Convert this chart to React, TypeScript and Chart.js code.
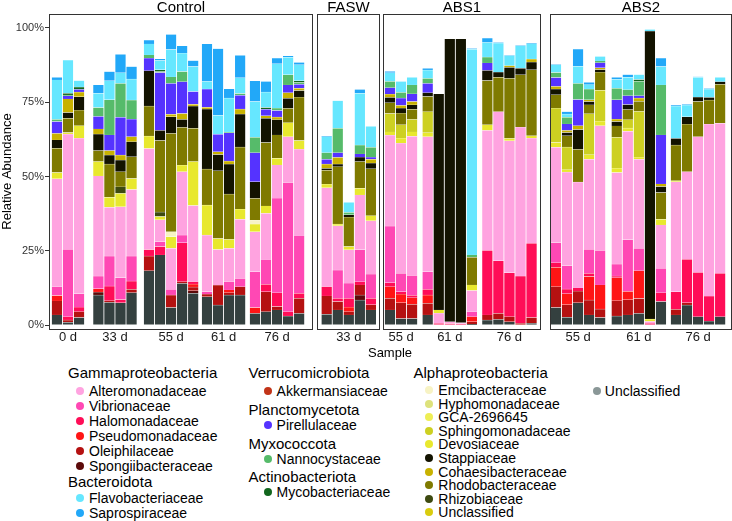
import React, { useEffect, useRef } from "react";
import { Chart, registerables } from "chart.js";

Chart.register(...registerables);

const FONT = '"Liberation Sans", Arial, Helvetica, sans-serif';

// ---------- categories ----------
const PANELS = ["Control", "FASW", "ABS1", "ABS2"];
const PANEL_DAYS = [["0 d", "33 d", "55 d", "61 d", "76 d"], ["33 d"], ["55 d", "61 d", "76 d"], ["55 d", "61 d", "76 d"]];
const REPLICATES = [[3, 4, 5, 4, 5], [5], [3, 5, 5], [5, 5, 5]];
const Y_TICKS = [0, 25, 50, 75, 100];

// ---------- series values (% relative abundance, one value per sample) ----------
const UNCLASSIFIED = [3.4,0.9,2.5, 10.1,7.6,7.5,10.9, 18.3,23.6,5.9,14.0,10.7, 9.5,6.7,10.1,10.1, 3.9,4.5,5.1,3.0,3.9, 3.6,5.1,3.4,8.4,5.1, 5.1,2.2,2.2, 3.4,0,0,0,0.3, 1.7,1.9,1.1,0,0.6, 5.9,2.6,7.5,3.4,2.5, 3.0,3.4,3.9,0,7.9, 3.4,6.7,2.8,1.3,2.8];
const SPONGIIBACTERACEAE = [0,0,0, 1.0,0,0,0, 0,0,0,0,0.8, 0,0,0,0, 0,0,0,0,0, 0,0,0,1.7,0, 0,0,0, 0,0,0,0,0, 0,0,0,0,0, 0,0,0,0,0, 0,0,0,0,0, 0,0,0,0,0];
const OLEIPHILACEAE = [4.7,0.8,2.0, 0,0.6,0,1.1, 4.9,0,4.2,0.6,1.3, 0.9,6.7,0.8,2.8, 0,6.7,1.1,0,5.1, 6.2,2.8,1.1,3.4,1.7, 3.9,5.3,4.8, 3.9,0,0,0,0.8, 1.7,2.0,1.7,0.6,1.9, 7.0,4.2,3.9,5.0,2.9, 5.2,5.1,5.0,0,0, 1.9,0.8,0,0,0];
const PSEUDOMONADACEAE = [1.8,0,0, 1.1,0,0,0, 0,0,0,0,1.0, 0,0,0.9,0, 2.0,0,0,0,0, 0,0,1.5,0,0, 3.9,2.9,2.2, 2.8,0,0,0,1.7, 0,0,0,0,0, 6.5,3.7,0,7.9,8.1, 7.7,2.8,9.4,0,0, 0,0,0,0,0];
const HALOMONADACEAE = [0,1.1,1.5, 0,4.9,1.1,2.8, 2.2,2.8,0,13.1,0.8, 0,0,0,0, 0,2.5,4.7,1.5,1.7, 3.1,1.1,3.0,1.1,2.2, 1.3,0.8,0.8, 1.9,0.6,0.5,0.4,0, 21.7,17.7,14.8,15.9,25.0, 1.6,1.6,1.1,1.1,0, 0.6,0,0,0.6,3.0, 5.9,14.6,14.9,8.4,14.6];
const VIBRIONACEAE = [3.0,22.7,4.5, 4.3,10.1,7.3,8.4, 0,1.7,1.9,2.6,0, 0.8,0,2.8,2.8, 12.0,8.2,31.8,43.4,19.3, 0,9.5,5.1,10.7,8.1, 19.1,6.2,6.7, 5.9,0,0,0,1.7, 0,0,0,0,0, 6.7,7.9,0,8.1,11.6, 4.0,17.4,7.5,0,8.2, 0,0,0,0,0];
const ALTEROMONADACEAE = [36.3,38.8,52.4, 33.7,16.4,23.9,22.4, 34.0,7.3,13.8,21.3,25.6, 19.1,12.0,11.2,19.9, 13.5,15.7,11.2,15.5,29.2, 33.3,14.9,11.2,18.5,18.0, 30.6,43.8,46.8, 45.5,3.4,0.6,0.4,7.1, 40.4,50.2,44.4,50.1,35.4, 32.1,31.5,35.6,30.3,42.0, 30.8,36.5,30.0,0.6,14.6, 37.0,29.5,45.7,57.9,50.5];
const DEVOSIACEAE = [2.1,0.5,4.2, 4.8,3.4,4.5,3.7, 4.2,1.1,3.9,2.2,14.8, 10.1,3.7,3.0,3.4, 2.6,2.5,2.2,4.7,2.9, 1.2,0.6,1.1,2.2,1.7, 1.1,1.7,1.5, 1.3,1.1,0,0,1.9, 1.9,0,0.8,0,0.8, 1.6,0.8,0,1.5,1.5, 1.5,1.1,0.7,0.8,1.9, 0.4,0,0,0,0];
const EMCIBACTERACEAE = [0,0,0, 0,0,0,0, 0,0,1.7,0,0, 0,0,0,0, 1.3,0,0,0,0, 0,0,0,0,0, 0,0,0, 0,0,0,0,0, 0,0,0,0,0, 0,0,0,0,0, 0,0,0,0,0, 0,0,0,0,0];
const GCA_2696645 = [0,0,0, 0,0,0,0, 0,0,0,0,0, 0,0,0,0, 0,0,0,0,0, 0,0,0,0,0, 0,0,0, 0,0,0,0,0, 0,0,0,0,0, 0,0,0,0,0, 0,0,0,0,0, 0,0,0,0,0];
const HYPHOMONADACEAE = [0,0,0, 0,0,0,0, 0,0,0,0,0, 0,0,0,0, 0,0,0,0,0, 0,0,0,0,0, 0,0,0, 0,0,0,0,0, 0,0,0,0,0, 0,0,0,0,0, 0,0,0,0,0, 0,0,0,0,0];
const SPHINGOMONADACEAE = [0,0,0, 0,0,0,0, 0,0,0,0,0, 0,0,0,0, 0,0,0,0,0, 0,0,0,0,0, 6.2,4.5,4.2, 7.1,0,0,0,0, 0,0,0,0,0, 11.6,7.6,0,13.8,10.4, 10.4,2.8,15.4,0,0, 0,0,0,0,0];
const UNCLASSIFIED_ALPHA = [0,0,0, 0,0,0,0, 0,0,0,0,0, 0,0,0,0, 0,0,0,0,0, 0,0,0,0,0, 0,0,0, 0,0,0,0,0, 0,0,0,0,0, 0,0,0,0,0, 0,0,0,0,0, 0,0,0,0,0];
const RHIZOBIACEAE = [0,0,0, 0,0,2.2,0, 0,1.5,0,0,0, 0,0,0,0, 0,0,0,0,0, 0,0,0,0,0, 0,0,0, 0,0,0,0,0, 0,0,0,0,0, 0,0,0,0,0, 0,0,0,0,0, 0,0,0,0,0];
const RHODOBACTERACEAE = [8.2,4.8,5.2, 3.7,11.2,5.1,7.3, 10.1,24.1,33.1,12.7,11.2, 12.1,22.8,15.3,20.9, 7.3,21.3,7.9,4.8,14.6, 4.7,19.3,9.9,9.0,15.8, 3.6,3.9,3.4, 5.1,0,0,0,9.3, 14.9,11.6,20.2,17.6,22.2, 4.5,3.8,11.0,3.0,6.1, 3.8,3.4,3.4,0,9.0, 12.0,16.0,11.8,8.1,13.1];
const STAPPIACEAE = [2.8,1.9,4.5, 5.6,3.0,3.9,5.1, 11.9,3.4,5.6,2.7,7.5, 20.2,5.5,10.1,11.1, 5.6,8.2,5.1,3.4,2.2, 0.6,0.9,0.8,1.5,1.9, 1.8,1.7,1.5, 1.3,72.7,95.2,95.5,0, 3.4,1.7,3.7,2.2,2.6, 1.9,1.1,6.7,1.1,0.9, 1.5,1.7,0,96.9,2.0, 2.2,2.5,1.5,0.9,0.9];
const COHAESIBACTERACEAE = [2.2,4.6,1.6, 1.7,1.5,1.7,1.7, 0,0,0.8,2.0,0.6, 0.6,0.9,1.0,1.7, 0,0.8,0.9,1.9,0.8, 1.5,2.2,0,0,1.3, 1.1,0.9,1.1, 0,0,0,0,0, 0,0,0.6,0,1.0, 0.9,0.7,1.3,0.6,0.6, 0.8,0,1.1,0,0.9, 0,0,0,0,0];
const AKKERMANSIACEAE = [0,0,0, 0,0,0,0, 0,0,0,0,0, 0,0,0,0, 0,0,0,0,0, 0,0,0,0,0, 0,0,0, 0,0,0,0,0, 0,0,0,0,0, 0,0,0,0,0, 0,0,0,0,0, 0,0,0,0,0];
const PIRELLULACEAE = [4.0,1.0,0.9, 4.2,5.3,12.7,5.9, 4.2,19.5,10.4,10.7,4.3, 6.1,5.9,9.5,4.6, 9.8,2.2,2.2,2.6,1.3, 1.6,1.6,0,1.1,0.7, 2.2,2.5,2.6, 3.1,0,0,0,0, 2.5,0,0,0,0, 3.0,2.2,8.8,0,1.7, 6.5,3.0,0.8,0,16.5, 0,0,0,0,0];
const NANNOCYSTACEAE = [0.7,0.3,0, 3.0,11.8,11.4,6.4, 1.1,0.3,2.2,3.4,0, 0,0,0.3,0.6, 5.2,0,0.8,3.4,0.6, 2.2,8.2,0.8,3.0,3.3, 2.1,1.9,3.0, 1.7,0,0,0,0.8, 2.0,0,0,0,0, 1.7,2.2,5.4,3.6,0.6, 3.9,2.0,4.8,0,16.8, 0,0,0,0,0];
const MYCOBACTERIACEAE = [0,0.6,0.8, 0,0,0,0, 0,0.6,0,0,0, 0,0,0,0, 0,0.6,0,0,0.6, 0,0,0,0,0, 0,0,0, 0,0,0,0,0, 0,0,0,0,0, 0,0,0,0,0, 0,0,0.6,0,0, 0,0,0,0,0];
const FLAVOBACTERIACEAE = [13.3,11.2,2.2, 4.8,6.4,3.6,7.1, 3.7,3.1,9.2,6.2,8.4, 2.6,6.4,11.4,5.3, 12.0,5.2,14.9,5.9,5.4, 5.4,9.3,3.4,17.4,7.1, 2.9,3.7,2.6, 2.8,0,0,0,69.2, 4.9,9.8,3.4,7.6,5.2, 2.6,1.1,5.8,1.5,1.5, 3.0,4.2,1.7,0.6,6.2, 10.9,3.9,6.7,2.8,1.5];
const SAPROSPIRACEAE = [0.9,0,0, 2.8,3.1,6.2,4.2, 1.3,0.6,5.1,2.5,2.0, 12.6,22.4,3.1,7.6, 7.0,3.6,1.9,0.5,0.8, 0.2,0,0,1.3,0, 0.5,0,0, 0.6,0,0,0,0.3, 1.5,0.2,0.2,0.2,0.2, 0.2,0.8,5.8,0.8,0, 0.7,0.9,0,0,2.8, 0.3,0.3,0.2,0.2,0];

// stacking order: bottom -> top
const FAMILIES = [
  { name: "Unclassified", values: UNCLASSIFIED, color: "#34403f", legendColor: "#8a9797" },
  { name: "Spongiibacteraceae", values: SPONGIIBACTERACEAE, color: "#5c0a0a" },
  { name: "Oleiphilaceae", values: OLEIPHILACEAE, color: "#b51111" },
  { name: "Pseudomonadaceae", values: PSEUDOMONADACEAE, color: "#ff1515" },
  { name: "Halomonadaceae", values: HALOMONADACEAE, color: "#ff0d57" },
  { name: "Vibrionaceae", values: VIBRIONACEAE, color: "#ff48b4" },
  { name: "Alteromonadaceae", values: ALTEROMONADACEAE, color: "#ffa3e0" },
  { name: "Devosiaceae", values: DEVOSIACEAE, color: "#e8e82e" },
  { name: "Emcibacteraceae", values: EMCIBACTERACEAE, color: "#f7f3c4" },
  { name: "GCA-2696645", values: GCA_2696645, color: "#eeee55" },
  { name: "Hyphomonadaceae", values: HYPHOMONADACEAE, color: "#dde27c" },
  { name: "Sphingomonadaceae", values: SPHINGOMONADACEAE, color: "#cdd022" },
  { name: "Unclassified Alphaproteobacteria", values: UNCLASSIFIED_ALPHA, color: "#d9cc0e" },
  { name: "Rhizobiaceae", values: RHIZOBIACEAE, color: "#3d4a10" },
  { name: "Rhodobacteraceae", values: RHODOBACTERACEAE, color: "#7f7a00" },
  { name: "Stappiaceae", values: STAPPIACEAE, color: "#131300" },
  { name: "Cohaesibacteraceae", values: COHAESIBACTERACEAE, color: "#c8b200" },
  { name: "Akkermansiaceae", values: AKKERMANSIACEAE, color: "#c23418" },
  { name: "Pirellulaceae", values: PIRELLULACEAE, color: "#5533ff" },
  { name: "Nannocystaceae", values: NANNOCYSTACEAE, color: "#56bb6a" },
  { name: "Mycobacteriaceae", values: MYCOBACTERIACEAE, color: "#12661e" },
  { name: "Flavobacteriaceae", values: FLAVOBACTERIACEAE, color: "#66e7ff" },
  { name: "Saprospiraceae", values: SAPROSPIRACEAE, color: "#22a8f8" },
];

const LEGEND_GROUPS = [
  { title: "Gammaproteobacteria", members: ["Alteromonadaceae", "Vibrionaceae", "Halomonadaceae", "Pseudomonadaceae", "Oleiphilaceae", "Spongiibacteraceae"] },
  { title: "Bacteroidota", members: ["Flavobacteriaceae", "Saprospiraceae"] },
  { title: "Verrucomicrobiota", members: ["Akkermansiaceae"] },
  { title: "Planctomycetota", members: ["Pirellulaceae"] },
  { title: "Myxococcota", members: ["Nannocystaceae"] },
  { title: "Actinobacteriota", members: ["Mycobacteriaceae"] },
  { title: "Alphaproteobacteria", members: ["Emcibacteraceae", "Hyphomonadaceae", "GCA-2696645", "Sphingomonadaceae", "Devosiaceae", "Stappiaceae", "Cohaesibacteraceae", "Rhodobacteraceae", "Rhizobiaceae", "Unclassified Alphaproteobacteria"] },
  { title: "", members: ["Unclassified"] },
];

// ---------- layout (slot units: one bar per slot) ----------
const PANEL_PAD = [[0.27, 0.71], [0.45, 0.26], [0.21, 0.31], [0.09, 0.53]];
const GROUP_GAPS = [[0.75, 0.58, 0.25, 0.34], [], [0.41, 0.4], [0.5, 0.36]];
const PANEL_SPACING = [0.43, 0.36, 0.91];
const BAR_HALF = 0.45;

const LEGEND_COLS = [
  { titleX: 68, dotX: 79.7, textX: 89 },
  { titleX: 248.5, dotX: 268.2, textX: 276.6 },
  { titleX: 413.5, dotX: 429, textX: 438.3 },
  { titleX: 590, dotX: 596.8, textX: 604.8 },
];
const LEGEND_PLACE = [
  { col: 0, titleY: 373.3, firstY: 390.7, step: 15 },
  { col: 0, titleY: 482.3, firstY: 497.7, step: 15.5 },
  { col: 1, titleY: 373.3, firstY: 390.7, step: 15 },
  { col: 1, titleY: 410, firstY: 424.5, step: 15 },
  { col: 1, titleY: 444.3, firstY: 459.3, step: 15 },
  { col: 1, titleY: 476.7, firstY: 492.3, step: 15 },
  { col: 2, titleY: 373.3, firstY: 390, step: 13.6 },
  { col: 3, titleY: 0, firstY: 390.7, step: 15 },
];

function buildLayout() {
  const xs: number[] = [];
  const panels: { name: string; left: number; right: number }[] = [];
  const tickVals: number[] = [];
  const tickLabels: string[] = [];
  let cursor = 0;
  PANELS.forEach((name, pi) => {
    const left = cursor;
    let x = left + PANEL_PAD[pi][0] + BAR_HALF;
    REPLICATES[pi].forEach((n, gi) => {
      if (gi > 0) x += 1 + GROUP_GAPS[pi][gi - 1];
      const first = x;
      for (let k = 0; k < n; k++) {
        if (k > 0) x += 1;
        xs.push(x);
      }
      tickVals.push((first + x) / 2);
      tickLabels.push(PANEL_DAYS[pi][gi]);
    });
    const right = x + BAR_HALF + PANEL_PAD[pi][1];
    panels.push({ name, left, right });
    cursor = right + (pi < PANEL_SPACING.length ? PANEL_SPACING[pi] : 0);
  });
  return { xs, panels, tickVals, tickLabels, xMax: panels[panels.length - 1].right };
}

export default function App() {
  const canvasRef = useRef<HTMLCanvasElement | null>(null);

  useEffect(() => {
    const L = buildLayout();
    const panelPlugin = {
      id: "facetPanels",
      afterDatasetsDraw(chart: any) {
        const { ctx, chartArea, scales } = chart;
        const xs = scales.x;
        ctx.save();
        ctx.strokeStyle = "#333333";
        ctx.lineWidth = 1;
        L.panels.forEach((p) => {
          const l = Math.round(xs.getPixelForValue(p.left)) + 0.5;
          const r = Math.round(xs.getPixelForValue(p.right)) + 0.5;
          const t = Math.round(chartArea.top) + 0.5;
          const b = Math.round(chartArea.bottom) + 0.5;
          ctx.strokeRect(l, t, r - l, b - t);
          ctx.fillStyle = "#000";
          ctx.font = `15px ${FONT}`;
          ctx.textAlign = "center";
          ctx.textBaseline = "alphabetic";
          ctx.fillText(p.name, (l + r) / 2, 12);
        });
        ctx.restore();
      },
    };

    const datasets = FAMILIES.map((f) => ({
      label: f.name,
      data: f.values.map((v, i) => ({ x: L.xs[i], y: v })),
      backgroundColor: f.color,
      borderColor: "rgba(255,255,255,0.9)",
      borderWidth: 0.4,
      borderSkipped: false as any,
      barThickness: 10.4,
    }));

    const chart = new Chart(canvasRef.current as HTMLCanvasElement, {
      type: "bar",
      data: { datasets } as any,
      options: {
        animation: false,
        responsive: true,
        maintainAspectRatio: false,
        layout: { padding: { top: 14, right: 1, bottom: 0, left: 0 } },
        plugins: { legend: { display: false }, tooltip: { enabled: false } },
        scales: {
          x: {
            type: "linear",
            stacked: true,
            min: 0,
            max: L.xMax,
            offset: false,
            grid: { display: false, drawTicks: false },
            border: { display: false },
            afterBuildTicks: (s: any) => {
              s.ticks = L.tickVals.map((v) => ({ value: v }));
            },
            afterFit: (s: any) => {
              s.height = 33;
            },
            ticks: {
              autoSkip: false,
              maxRotation: 0,
              minRotation: 0,
              padding: 1,
              color: "#1a1a1a",
              font: { family: FONT, size: 13 },
              callback: (_v: any, i: number) => L.tickLabels[i],
            },
            title: { display: true, text: "Sample", color: "#000", font: { family: FONT, size: 13 }, padding: { top: 0, bottom: 1 } },
          },
          y: {
            stacked: true,
            min: -1.31,
            max: 104.71,
            afterBuildTicks: (s: any) => {
              s.ticks = Y_TICKS.map((v) => ({ value: v }));
            },
            afterFit: (s: any) => {
              s.width = 49;
            },
            grid: { display: true, drawOnChartArea: false, drawTicks: true, tickLength: 4, color: "#333", lineWidth: 1 },
            border: { display: false },
            ticks: { padding: 1, color: "#333", font: { family: FONT, size: 11 }, callback: (v: any) => `${v}%` },
            title: { display: true, text: "Relative Abundance", color: "#000", font: { family: FONT, size: 13 }, padding: 0 },
          },
        },
      } as any,
      plugins: [panelPlugin],
    });
    return () => chart.destroy();
  }, []);

  const colorOf = (name: string) => {
    const f: any = FAMILIES.find((d) => d.name === name);
    return f ? f.legendColor || f.color : "#000";
  };

  return (
    <div style={{ position: "absolute", left: 0, top: 0, width: 732, height: 521, fontFamily: FONT, background: "#fff" }}>
      <div style={{ position: "absolute", left: 0, top: 0, width: 732, height: 362 }}>
        <canvas ref={canvasRef} />
      </div>
      {LEGEND_GROUPS.map((g, gi) => {
        const place = LEGEND_PLACE[gi];
        const col = LEGEND_COLS[place.col];
        return (
          <React.Fragment key={gi}>
            {g.title ? (
              <div style={{ position: "absolute", left: col.titleX, top: place.titleY - 9, lineHeight: "18px", fontSize: 15, color: "#000", whiteSpace: "nowrap" }}>
                {g.title}
              </div>
            ) : null}
            {g.members.map((m, mi) => {
              const y = place.firstY + mi * place.step;
              return (
                <React.Fragment key={m}>
                  <div style={{ position: "absolute", left: col.dotX - 4, top: y - 4, width: 8, height: 8, borderRadius: "50%", background: colorOf(m) }} />
                  <div style={{ position: "absolute", left: col.textX, top: y - 8, lineHeight: "16px", fontSize: 14, color: "#000", whiteSpace: "nowrap" }}>
                    {m.replace(" Alphaproteobacteria", "")}
                  </div>
                </React.Fragment>
              );
            })}
          </React.Fragment>
        );
      })}
    </div>
  );
}
